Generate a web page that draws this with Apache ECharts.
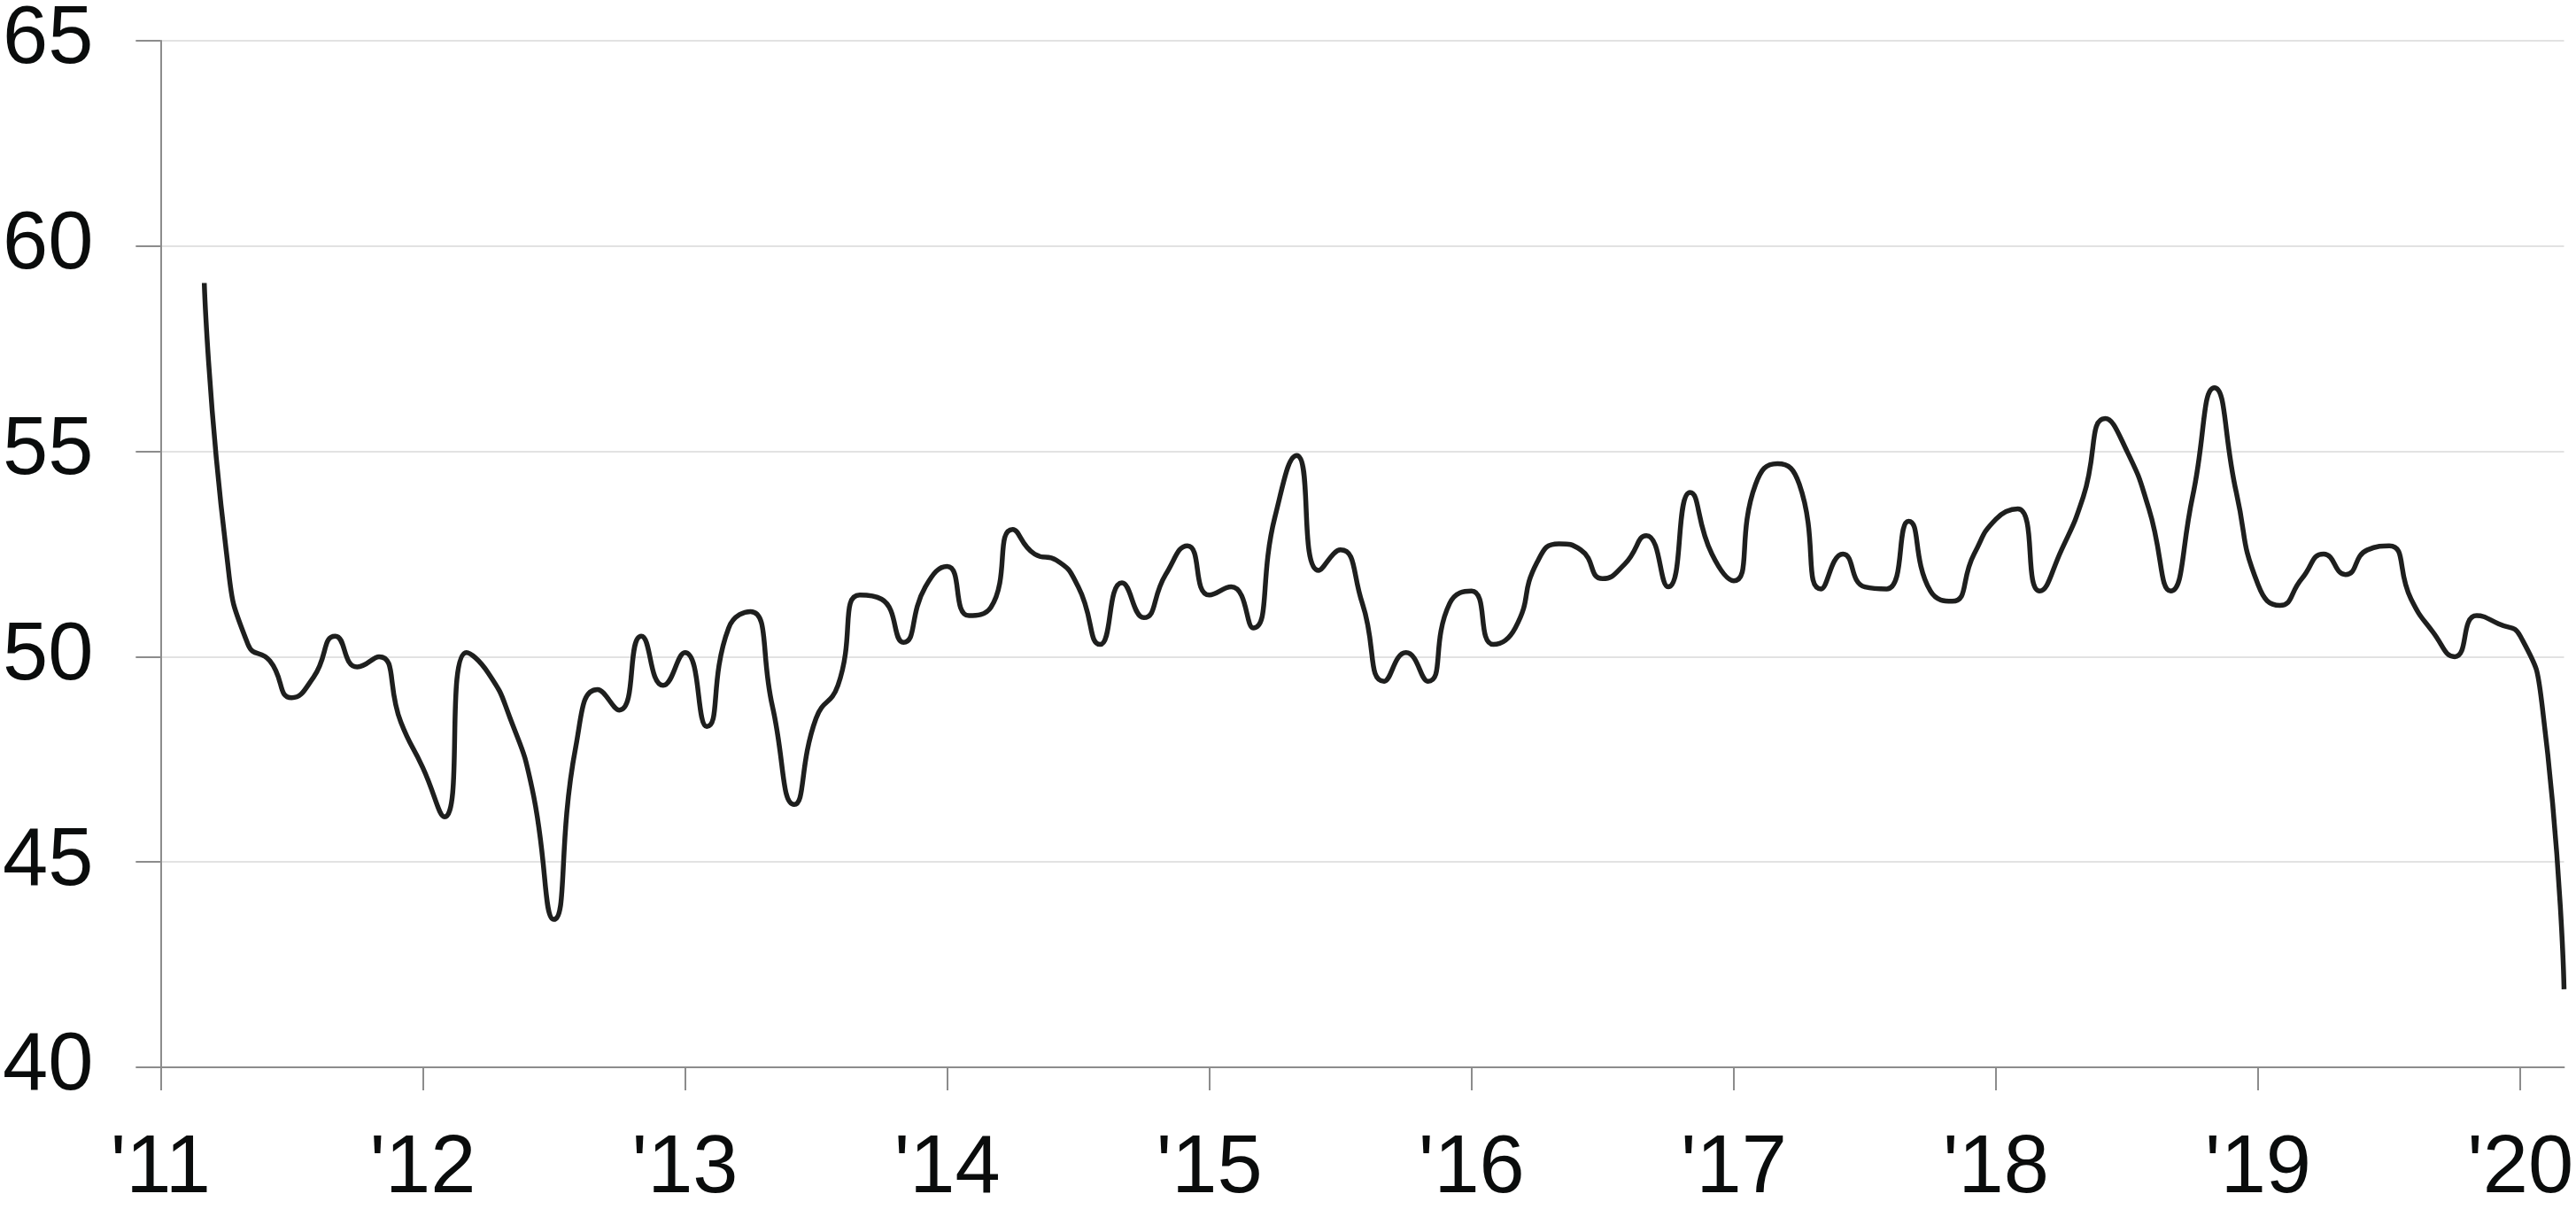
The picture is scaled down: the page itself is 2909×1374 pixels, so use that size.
<!DOCTYPE html>
<html>
<head>
<meta charset="utf-8">
<script src="https://cdn.jsdelivr.net/npm/echarts@6/dist/echarts.min.js"></script>
<style>
  html, body { margin: 0; padding: 0; background: #ffffff; }
  #chart { width: 2909px; height: 1374px; }
</style>
</head>
<body>
<div id="chart"></div>
<script>
// Monthly series, March 2011 through March 2020
const firstYear = 2011;
const firstMonth = 3;
const values2011 = [59.1, 52.6, 50.3, 49.9, 49.0, 49.5, 50.5, 49.75, 50.0, 48.4];
const values2012 = [47.3, 46.1, 50.1, 49.6, 48.5, 46.8, 43.6, 47.8, 49.2, 48.7, 50.5, 49.3];
const values2013 = [50.1, 48.3, 50.7, 51.1, 48.8, 46.4, 48.5, 49.3, 51.5, 51.4, 50.35, 51.7];
const values2014 = [52.2, 51.0, 51.2, 53.1, 52.5, 52.35, 51.7, 50.3, 51.8, 50.95, 52.0, 52.7];
const values2015 = [51.5, 51.7, 50.7, 53.4, 54.9, 52.1, 52.6, 51.3, 49.4, 50.1, 49.4, 51.3];
const values2016 = [51.6, 50.3, 50.7, 52.3, 52.75, 52.6, 51.9, 52.25, 52.95, 51.7, 54.0, 52.5];
const values2017 = [51.85, 54.2, 54.7, 54.2, 51.65, 52.5, 51.7, 51.65, 53.3, 51.6, 51.35, 52.5];
const values2018 = [53.35, 53.6, 51.6, 52.6, 53.9, 55.8, 55.0, 53.6, 51.6, 53.9, 56.55, 54.0];
const values2019 = [51.75, 51.25, 51.9, 52.5, 52.0, 52.6, 52.7, 51.4, 50.6, 50.0, 51.0, 50.8];
const values2020 = [50.5, 48.8, 41.9];

const yearTicks = [2011, 2012, 2013, 2014, 2015, 2016, 2017, 2018, 2019, 2020];
const yearLabels = ["'11", "'12", "'13", "'14", "'15", "'16", "'17", "'18", "'19", "'20"];
const yMin = 40, yMax = 65, yStep = 5;

const allValues = [].concat(values2011, values2012, values2013, values2014, values2015,
  values2016, values2017, values2018, values2019, values2020);
const seriesData = allValues.map(function (v, i) {
  const monthIndex = (firstMonth - 1) + i;
  return [firstYear + monthIndex / 12, v];
});
const xMax = seriesData[seriesData.length - 1][0];

const chart = echarts.init(document.getElementById('chart'), null, { renderer: 'canvas' });
const fontFamily = '"Liberation Sans", Arial, Helvetica, sans-serif';
chart.setOption({
  animation: false,
  backgroundColor: '#ffffff',
  grid: { left: 176, right: 13, top: 44, bottom: 169, containLabel: false },
  xAxis: {
    type: 'value',
    min: firstYear,
    max: xMax,
    splitLine: { show: false },
    axisLine: { show: true, onZero: false, lineStyle: { color: '#8c8c8c', width: 2 } },
    axisTick: { show: true, length: 26, customValues: yearTicks, lineStyle: { color: '#8c8c8c', width: 2 } },
    axisLabel: {
      customValues: yearTicks,
      margin: 70,
      fontSize: 92,
      fontFamily: fontFamily,
      color: '#0a0c0c',
      formatter: function (v) {
        const i = yearTicks.indexOf(Math.round(v));
        return i >= 0 ? yearLabels[i] : '';
      }
    }
  },
  yAxis: {
    type: 'value',
    min: yMin,
    max: yMax,
    interval: yStep,
    axisLine: { show: true, lineStyle: { color: '#8c8c8c', width: 2 } },
    axisTick: { show: true, length: 28, lineStyle: { color: '#8c8c8c', width: 2 } },
    splitLine: { show: true, lineStyle: { color: '#d9d9d9', width: 1.5 } },
    axisLabel: {
      margin: 76,
      fontSize: 92,
      fontFamily: fontFamily,
      color: '#0a0c0c'
    }
  },
  series: [{
    type: 'line',
    data: seriesData,
    smooth: 0.55,
    showSymbol: false,
    symbol: 'none',
    lineStyle: { color: '#1e1f1e', width: 5.5 }
  }]
});
</script>
</body>
</html>
